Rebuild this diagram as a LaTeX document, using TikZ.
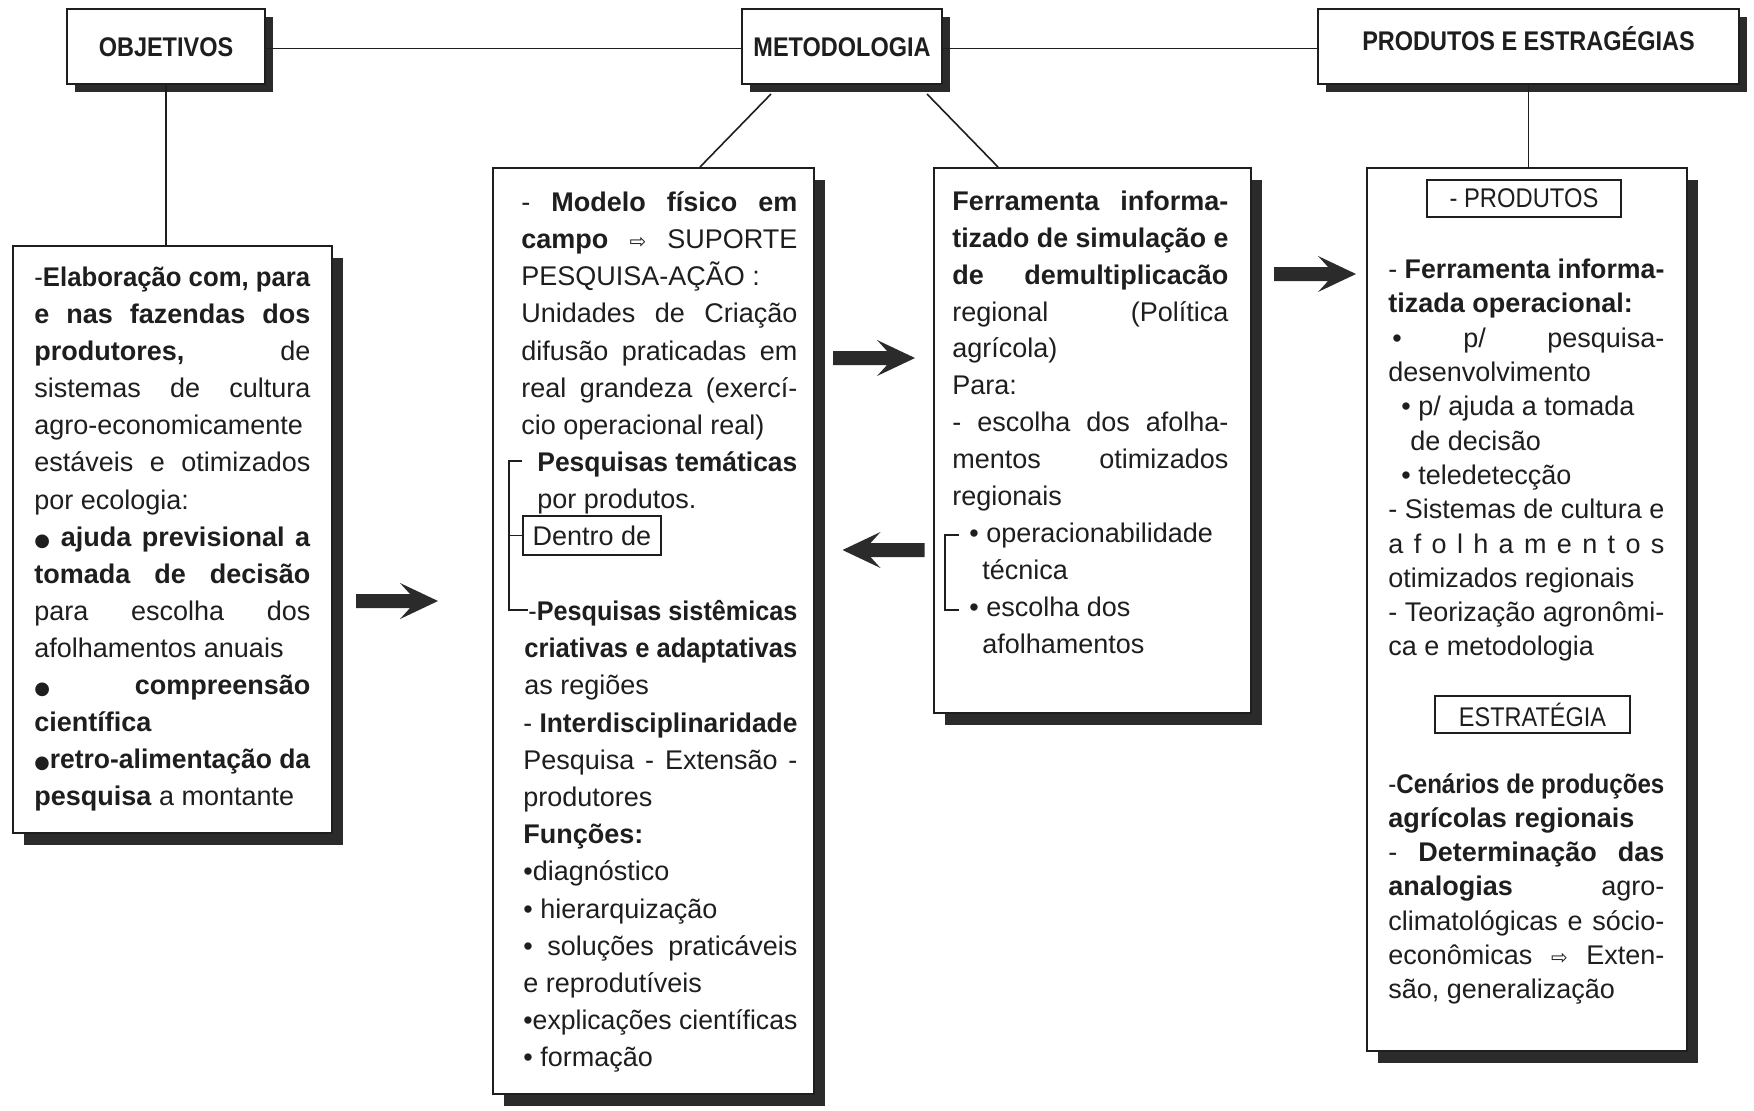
\documentclass[tikz,border=0pt]{standalone}
\usepackage{fontspec}
\usepackage{graphicx}
\setmainfont{Liberation Sans}
\newfontfamily\dejavu{DejaVu Sans}
\usetikzlibrary{shadows,calc}

\definecolor{ink}{HTML}{1E1E1E}
\definecolor{shadowgray}{HTML}{2B2B2B}

\newsavebox\lnbox
\newlength\lnw
% justified line (stretches spaces, shrinks if too wide)
\newcommand\jline[2][0pt]{\setlength\lnw{\dimexpr\linewidth-#1\relax}\hspace*{#1}{\spaceskip=0pt\xspaceskip=0pt\sbox\lnbox{#2}\ifdim\wd\lnbox>\lnw\resizebox{\lnw}{\ht\lnbox}{\usebox\lnbox}\else\makebox[\lnw][s]{#2}\fi}}
% left aligned line
\newcommand\lline[2][0pt]{\setlength\lnw{\dimexpr\linewidth-#1\relax}\hspace*{#1}{\spaceskip=0pt\xspaceskip=0pt\sbox\lnbox{#2}\ifdim\wd\lnbox>\lnw\resizebox{\lnw}{\ht\lnbox}{\usebox\lnbox}\else\makebox[\lnw][l]{#2}\fi}}
\newcommand\bigbul{{\dejavu\fontsize{9}{9}\selectfont ●}}
\newcommand\warr{{\dejavu\fontsize{10}{10}\selectfont ⇨}}

\tikzset{
  hdrbox/.style={draw=ink, line width=1pt, fill=white, minimum height=37.5pt, inner sep=0pt,
    drop shadow={shadow xshift=4pt, shadow yshift=-4pt, opacity=1, fill=shadowgray},
    font=\fontsize{13.5}{16}\selectfont\bfseries, text=ink},
  panelbox/.style={draw=ink, line width=1pt, fill=white, inner sep=0pt,
    drop shadow={shadow xshift=5.5pt, shadow yshift=-6pt, opacity=1, fill=shadowgray}},
  bodytext/.style={anchor=base west, inner sep=0pt, text width=138pt, align=left, text=ink},
  tagbox/.style={draw=ink, line width=0.7pt, fill=white, inner sep=0pt, text=ink},
  linkline/.style={draw=ink, line width=0.8pt},
  barrow/.pic={\fill[fill=shadowgray] (-41,-7) -- (13,-7) -- (3,-18) -- (41,0) -- (3,18) -- (13,7) -- (-41,7) -- cycle;}
}

\begin{document}
\begin{tikzpicture}[x=0.5pt,y=-0.5pt]
\useasboundingbox (0,0) rectangle (1754,1110);
\fill[white] (0,0) rectangle (1754,1110);

% header boxes
\node[hdrbox, minimum width=99pt] (h1) at (166,46.5) {\raisebox{-4.83pt}[0pt][0pt]{\scalebox{0.87}[1]{OBJETIVOS}}};
\node[hdrbox, minimum width=100pt] (h2) at (842,46.5) {\raisebox{-4.83pt}[0pt][0pt]{\scalebox{0.87}[1]{METODOLOGIA}}};
\node[hdrbox, minimum width=210.5pt] (h3) at (1528.5,46.5) {\raisebox{-2.1pt}[0pt][0pt]{\scalebox{0.87}[1]{PRODUTOS E ESTRAGÉGIAS}}};

% panels
\node[panelbox, minimum width=159.5pt, minimum height=293.5pt] (b1) at (172.5,539.5) {};
\node[panelbox, minimum width=160.5pt, minimum height=463pt] (b2) at (653.5,631) {};
\node[panelbox, minimum width=158.5pt, minimum height=272.5pt] (b3) at (1092.5,440.5) {};
\node[panelbox, minimum width=160pt, minimum height=441.5pt] (b4) at (1527,609.5) {};

% connectors
\draw[linkline] ([yshift=-1pt]h1.east) -- ([yshift=-1pt]h2.west);
\draw[linkline] ([yshift=-1pt]h2.east) -- ([yshift=-1pt]h3.west);
\draw[linkline] (h1.south) -- (h1.south |- b1.north);
\draw[linkline] (h3.south) -- (h3.south |- b4.north);
\coordinate (d1a) at ($(h2.south west)+(30,9)$);
\coordinate (d1b) at ($(b2.north west)+(208,0)$);
\coordinate (d2a) at ($(h2.south east)+(-16,9)$);
\coordinate (d2b) at ($(b3.north west)+(65,0)$);
\draw[linkline] (d1a) -- (d1b);
\draw[linkline] (d2a) -- (d2b);

% block arrows
\path (397,601) pic {barrow};
\path (874,358) pic {barrow};
\path (883.5,550) pic[rotate=180] {barrow};
\path (1315,274) pic {barrow};

% box 1 text
\node[bodytext, font=\fontsize{13.5}{18.55}\selectfont] (t1) at (34,286.4) {%
\jline{-\textbf{Elaboração com, para}}\\
\jline{\textbf{e nas fazendas dos}}\\
\jline{\textbf{produtores,} de}\\
\jline{sistemas de cultura}\\
\jline{agro-economicamente}\\
\jline{estáveis e otimizados}\\
\lline{por ecologia:}\\
\jline{\bigbul\ \textbf{ajuda previsional a}}\\
\jline{\textbf{tomada de decisão}}\\
\jline{para escolha dos}\\
\lline{afolhamentos anuais}\\
\jline{\bigbul\ \textbf{compreensão}}\\
\lline{\textbf{científica}}\\
\jline{\bigbul\textbf{retro-alimentação da}}\\
\lline{\textbf{pesquisa} a montante}};

% box 2 text
\node[bodytext, font=\fontsize{13.5}{18.6}\selectfont] (t2) at (521,211.3) {%
\jline{- \textbf{Modelo físico em}}\\
\jline{\textbf{campo} \warr\ SUPORTE}\\
\lline{PESQUISA-AÇÃO :}\\
\jline{Unidades de Criação}\\
\jline{difusão praticadas em}\\
\jline{real grandeza (exercí-}\\
\lline{cio operacional real)}\\
\jline[8pt]{\textbf{Pesquisas temáticas}}\\
\lline[8pt]{por produtos.}\\
\lline{}\\
\lline{}\\
\jline[3.5pt]{-\textbf{Pesquisas sistêmicas}}\\
\jline[1.5pt]{\textbf{criativas e adaptativas}}\\
\lline[1.5pt]{as regiões}\\
\jline[1pt]{- \textbf{Interdisciplinaridade}}\\
\jline[1pt]{Pesquisa - Extensão -}\\
\lline[1pt]{produtores}\\
\lline[1pt]{\textbf{Funções:}}\\
\lline[1pt]{\textbullet diagnóstico}\\
\lline[1pt]{\textbullet\ hierarquização}\\
\jline[1pt]{\textbullet\ soluções praticáveis}\\
\lline[1pt]{e reprodutíveis}\\
\jline[1pt]{\textbullet explicações científicas}\\
\lline[1pt]{\textbullet\ formação}};

\node[tagbox, minimum width=69pt, minimum height=19.5pt, font=\fontsize{13.5}{16}\selectfont] (dentro) at (592,535.5) {Dentro de};
\coordinate (k0) at (509,461);
\draw[linkline] (522,461) -- (k0) -- (509,610) -- (528,610);
\draw[linkline] (dentro.west) -- (dentro.west -| k0);

% box 3 text
\node[bodytext, font=\fontsize{13.5}{18.45}\selectfont] (t3) at (952,210.3) {%
\jline{\textbf{Ferramenta informa-}}\\
\jline{\textbf{tizado de simulação e}}\\
\jline{\textbf{de demultiplicacão}}\\
\jline{regional (Política}\\
\lline{agrícola)}\\
\lline{Para:}\\
\jline{- escolha dos afolha-}\\
\jline{mentos otimizados}\\
\lline{regionais}\\
\lline[8.5pt]{\textbullet\ operacionabilidade}\\
\lline[15pt]{técnica}\\
\lline[8.5pt]{\textbullet\ escolha dos}\\
\lline[15pt]{afolhamentos}};
\coordinate (k3) at (945,535);
\draw[linkline] (959,535) -- (k3) -- (945,610) -- (959,610);

% box 4 text
\node[tagbox, minimum width=97pt, minimum height=18.5pt, font=\fontsize{13.5}{16}\selectfont] (prod) at (1524,198.5) {\scalebox{0.88}[1]{- PRODUTOS}};
\node[bodytext, font=\fontsize{13.5}{17.15}\selectfont] (t4a) at (1388,278.6) {%
\jline{- \textbf{Ferramenta informa-}}\\
\lline{\textbf{tizada operacional:}}\\
\jline[2pt]{\textbullet\ p/ pesquisa-}\\
\lline{desenvolvimento}\\
\lline[6.5pt]{\textbullet\ p/ ajuda a tomada}\\
\lline[11pt]{de decisão}\\
\lline[6.5pt]{\textbullet\ teledetecção}\\
\jline{- Sistemas de cultura e}\\
\jline{a f o l h a m e n t o s}\\
\lline{otimizados regionais}\\
\jline{- Teorização agronômi-}\\
\lline{ca e metodologia}};
\node[tagbox, minimum width=97.5pt, minimum height=18.5pt, font=\fontsize{13.5}{16}\selectfont] (estr) at (1532.5,714.5) {\scalebox{0.87}[1]{ESTRATÉGIA}};
\node[bodytext, font=\fontsize{13.5}{17.15}\selectfont] (t4b) at (1388,793) {%
\jline{-\textbf{Cenários de produções}}\\
\lline{\textbf{agrícolas regionais}}\\
\jline{- \textbf{Determinação das}}\\
\jline{\textbf{analogias} agro-}\\
\jline{climatológicas e sócio-}\\
\jline{econômicas \warr\ Exten-}\\
\lline{são, generalização}};
\end{tikzpicture}
\end{document}
